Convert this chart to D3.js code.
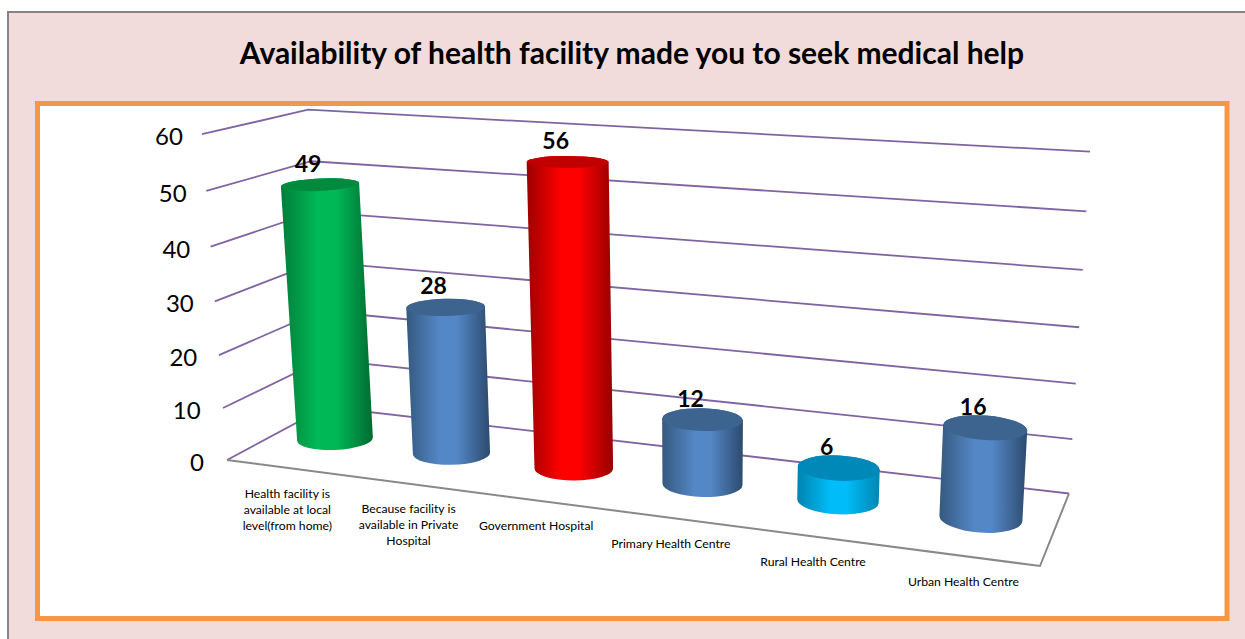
<!DOCTYPE html>
<html><head><meta charset="utf-8">
<script src="https://cdn.jsdelivr.net/npm/d3@7/dist/d3.min.js"></script>
<style>html,body{margin:0;padding:0;background:#fff;overflow:hidden}svg{display:block}text{font-family:Lato,"Liberation Sans",sans-serif;fill:#000}</style>
</head><body><svg id="c" width="1245" height="639"></svg>
<script>
const titleText = "Availability of health facility made you to seek medical help";
const categories = ["Health facility is available at local level(from home)","Because facility is available in Private Hospital","Government Hospital","Primary Health Centre","Rural Health Centre","Urban Health Centre"];
const categoryLines = [["Health facility is","available at local","level(from home)"],["Because facility is","available in Private","Hospital"],["Government Hospital"],["Primary Health Centre"],["Rural Health Centre"],["Urban Health Centre"]];
const values = [49,28,56,12,6,16];
const tickValues = [0,10,20,30,40,50,60];
const barPalette = ["green","blue","red","blue","cyan","blue"];
const shades = {
  green:{edgeL:"#007d3a",mid:"#00b956",edgeR:"#006a31",top:"#008a3e"},
  blue:{edgeL:"#35597f",mid:"#5487c6",edgeR:"#2c4a6e",top:"#3c648f"},
  red:{edgeL:"#9c0000",mid:"#ff0000",edgeR:"#960000",top:"#c00000"},
  cyan:{edgeL:"#0083ae",mid:"#00bcf8",edgeR:"#0086b2",top:"#0088b8"}
};

// perspective box: floor corners and vertical vanishing point
const O=[227,460],U=[1040,566],W=[326,407],R=[1069,493.5],VP=[696,6560],tau=-0.0507;
const alpha=(()=>{ // solve aU+bW-dO=R
  const A=[[U[0],W[0],-O[0]],[U[1],W[1],-O[1]],[1,1,-1]];
  const det=m=>m[0][0]*(m[1][1]*m[2][2]-m[1][2]*m[2][1])-m[0][1]*(m[1][0]*m[2][2]-m[1][2]*m[2][0])+m[0][2]*(m[1][0]*m[2][1]-m[1][1]*m[2][0]);
  const r=[R[0],R[1],1],D=det(A);
  const sol=[0,1,2].map(j=>det(A.map((row,i)=>row.map((v,k)=>k===j?r[i]:v)))/D);
  return {a:sol[0]/sol[2],b:sol[1]/sol[2]};
})();
function project(u,w,t){
  const k=i=>O[i]+u*(alpha.a*U[i]-O[i])+w*(alpha.b*W[i]-O[i])+t*tau*VP[i];
  const h=1+u*(alpha.a-1)+w*(alpha.b-1)+t*tau;
  return [k(0)/h,k(1)/h];
}
const uScale=d3.scaleBand().domain(categories).range([0,1]);
const tScale=d3.scaleLinear().domain([0,60]).range([0,1]);
const rollScale=d3.scaleLinear().domain([0,1]).range([-3.2,4.8]);
const radiusScale=d3.scaleLinear().domain([0,1]).range([0.056,0.046]);
const tickGap=d3.scaleLinear().domain([0,60]).range([23,19]);
const radiusW=0.2;

const svg=d3.select("#c");
svg.append("rect").attr("x",8).attr("y",12).attr("width",1240).attr("height",630).attr("fill","#f2dcdb").attr("stroke","#848484").attr("stroke-width",2);
svg.append("rect").attr("x",37.5).attr("y",103.5).attr("width",1189.5).attr("height",515).attr("fill","#fff").attr("stroke","#f79646").attr("stroke-width",5);
svg.append("text").attr("x",632).attr("y",64).attr("text-anchor","middle").attr("font-weight",700).attr("font-size",30).text(titleText);

const line=d3.line();
const grid=svg.append("g").attr("fill","none").attr("stroke","#8064a2").attr("stroke-width",1.8);
grid.selectAll("path").data(tickValues).join("path").attr("d",v=>{const t=tScale(v);return line([project(0,0,t),project(0,1,t),project(1,1,t)]);});
svg.append("path").attr("fill","none").attr("stroke","#898989").attr("stroke-width",2).attr("d",line([project(0,0,0),project(1,0,0),project(1,1,0)]));

svg.append("g").selectAll("text").data(tickValues).join("text").attr("text-anchor","end").attr("font-size",24)
  .attr("x",v=>project(0,0,tScale(v))[0]-tickGap(v)).attr("y",v=>project(0,0,tScale(v))[1]+11).text(v=>v);

const defs=svg.append("defs");
Object.entries(shades).forEach(([name,s])=>{
  const g=defs.append("linearGradient").attr("id","g-"+name);
  [[0,s.edgeL],[0.4,s.mid],[0.6,s.mid],[1,s.edgeR]].forEach(([o,c])=>g.append("stop").attr("offset",o).attr("stop-color",c));
});

const bars=svg.append("g");
function disc(u,t){
  const radiusU=radiusScale(u);
  const c=project(u,.5,t),l0=project(u-radiusU,.5,t),r0=project(u+radiusU,.5,t),f=project(u,.5-radiusW,t),b=project(u,.5+radiusW,t);
  const rx=Math.hypot(r0[0]-l0[0],r0[1]-l0[1])/2,ry=Math.abs(f[1]-b[1])/2,rot=rollScale(u),a=rot*Math.PI/180;
  return {c,rx,ry,rot,l:[c[0]-rx*Math.cos(a),c[1]-rx*Math.sin(a)],r:[c[0]+rx*Math.cos(a),c[1]+rx*Math.sin(a)]};
}
categories.forEach((cat,i)=>{
  const u=uScale(cat)+uScale.bandwidth()/2,t=tScale(values[i]),s=shades[barPalette[i]];
  const top=disc(u,t),bot=disc(u,0);
  const arc=(d,to)=>`A${d.rx} ${d.ry} ${d.rot} 0 0 ${to[0]} ${to[1]}`;
  bars.append("path").attr("fill",`url(#g-${barPalette[i]})`)
    .attr("d",`M${top.l}L${bot.l}${arc(bot,bot.r)}L${top.r}${arc(top,top.l)}Z`);
  bars.append("path").attr("fill",s.top)
    .attr("d",`M${top.l}${arc(top,top.r)}${arc(top,top.l)}Z`);
  svg.append("text").attr("x",top.c[0]-12).attr("y",top.c[1]-13).attr("text-anchor","middle")
    .attr("font-weight",700).attr("font-size",23).text(values[i]);
  const base=project(u,0,0);
  const txt=svg.append("text").attr("text-anchor","middle").attr("font-size",12.2);
  categoryLines[i].forEach((ln,j)=>txt.append("tspan").attr("x",base[0]+2).attr("y",base[1]+30+j*16).text(ln));
});
</script></body></html>
